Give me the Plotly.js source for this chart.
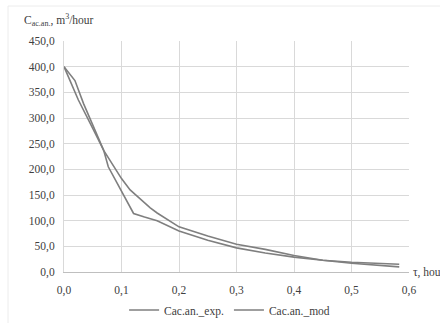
<!DOCTYPE html>
<html>
<head>
<meta charset="utf-8">
<script src="https://cdn.plot.ly/plotly-3.0.1.min.js"></script>
<style>html,body{margin:0;padding:0;background:#fff;}#chart{width:440px;height:323px;}</style>
</head>
<body>
<div id="chart"></div>
<script>
// Data
const expX = [0, 0.019, 0.034, 0.069, 0.077, 0.1, 0.121, 0.14, 0.162, 0.2, 0.25, 0.3, 0.35, 0.4, 0.45, 0.5, 0.55, 0.583];
const expY = [400, 373, 328, 237, 205, 158, 114, 107, 100, 80, 62, 47, 37, 29, 23, 19, 16, 15];
const modX = [0, 0.025, 0.05, 0.069, 0.1, 0.115, 0.15, 0.162, 0.2, 0.25, 0.3, 0.35, 0.4, 0.45, 0.5, 0.55, 0.583];
const modY = [400, 335, 280, 237, 182, 160, 125, 115, 88, 70, 54, 44, 32, 23, 17, 12, 10];
const seriesNames = ["Cac.an._exp.", "Cac.an._mod"];
const xTicks = [0, 0.1, 0.2, 0.3, 0.4, 0.5, 0.6];
const yTicks = [0, 50, 100, 150, 200, 250, 300, 350, 400, 450];

const SERIF = "Liberation Serif";
const lineStyle = {color: "#7f7f7f", width: 1.6};
const traces = [
  {x: expX, y: expY, name: seriesNames[0], type: "scatter", mode: "lines", line: lineStyle},
  {x: modX, y: modY, name: seriesNames[1], type: "scatter", mode: "lines", line: lineStyle}
];

const tickFont = {family: SERIF, size: 11.5, color: "#404040"};
const L = 64, R = 31, T = 41, B = 51, W = 440, H = 323;
const pw = W - L - R, ph = H - T - B;

const layout = {
  width: W, height: H,
  margin: {l: L, r: R, t: T, b: B, pad: 0, autoexpand: false},
  paper_bgcolor: "#fff", plot_bgcolor: "#fff",
  separators: ", ",
  font: {family: SERIF},
  showlegend: true,
  legend: {orientation: "h", x: 0.48, xanchor: "center", xref: "paper",
           y: (H - 310) / H, yanchor: "middle", yref: "container",
           font: {family: SERIF, size: 11.5, color: "#404040"},
           itemwidth: 30, tracegroupgap: 0},
  xaxis: {range: [0, 0.6], tickvals: xTicks, tickformat: ".1f", showgrid: true, gridcolor: "#d9d9d9",
          gridwidth: 1, zeroline: false, showline: true, linecolor: "#bfbfbf",
          ticks: "outside", ticklen: 7, tickcolor: "rgba(0,0,0,0)",
          tickfont: tickFont, fixedrange: true, automargin: false},
  yaxis: {range: [0, 450], tickvals: yTicks, tickformat: ".1f", showgrid: true, gridcolor: "#d9d9d9",
          gridwidth: 1, zeroline: false, showline: true, linecolor: "#d9d9d9",
          ticks: "outside", ticklen: 6, tickcolor: "rgba(0,0,0,0)",
          tickfont: tickFont, fixedrange: true, automargin: false},
  annotations: [
    {text: "C<sub>ac.an.</sub>, m<sup>3</sup>/hour", xref: "paper", yref: "paper",
     x: (22 - L) / pw, y: (H - B - 20) / ph, xanchor: "left", yanchor: "middle", showarrow: false,
     font: {family: SERIF, size: 11.5, color: "#404040"}},
    {text: "τ, hour", xref: "paper", yref: "paper", x: (411 - L) / pw, y: 0,
     xanchor: "left", yanchor: "middle", showarrow: false,
     font: {family: SERIF, size: 11.5, color: "#404040"}}
  ],
  shapes: [
    {type: "rect", xref: "paper", yref: "paper", x0: (8 - L) / pw, x1: (460 - L) / pw,
     y0: (H - B - 340) / ph, y1: (H - B - 6) / ph, line: {color: "#ececec", width: 1}, layer: "below"}
  ]
};

Plotly.newPlot("chart", traces, layout, {displayModeBar: false, staticPlot: true});
</script>
</body>
</html>
